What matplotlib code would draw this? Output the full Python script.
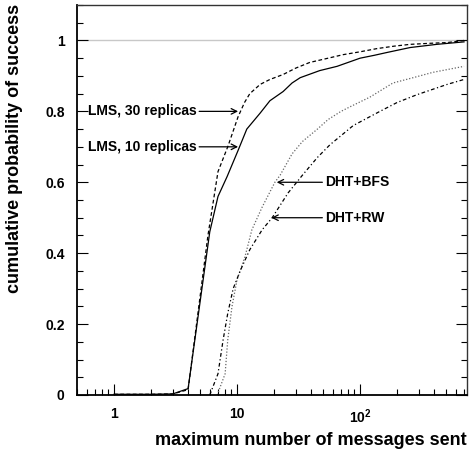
import matplotlib
matplotlib.use("Agg")
import matplotlib.pyplot as plt
from matplotlib.ticker import FixedLocator, NullFormatter, FixedFormatter

plt.rcParams['font.family'] = ['Liberation Sans', 'DejaVu Sans']
plt.rcParams['font.weight'] = 'bold'
plt.rcParams['mathtext.fontset'] = 'custom'
plt.rcParams['mathtext.bf'] = 'Liberation Sans:bold'
plt.rcParams['mathtext.rm'] = 'Liberation Sans:bold'

# data
lms30_x = [1, 2, 3, 4, 5.8, 7.0, 8.4, 10.2, 11.5, 12.7, 15.4, 18.5, 23.7, 30, 39, 55, 73, 100, 137, 190, 255, 370, 510, 700]
lms30_y = [0.002, 0.002, 0.003, 0.015, 0.45, 0.63, 0.70, 0.785, 0.825, 0.85, 0.876, 0.89, 0.904, 0.922, 0.938, 0.95, 0.96, 0.968, 0.977, 0.984, 0.989, 0.992, 0.994, 1.0]

lms10_x = [1, 2, 3, 4, 6.0, 7.0, 8.3, 10.2, 12.0, 15.4, 18.5, 23.7, 28, 32.6, 47, 65, 100, 130, 165, 255, 420, 700]
lms10_y = [0.002, 0.002, 0.003, 0.018, 0.46, 0.56, 0.616, 0.69, 0.75, 0.795, 0.83, 0.856, 0.88, 0.895, 0.915, 0.927, 0.95, 0.958, 0.966, 0.98, 0.989, 0.996]

bfs_x = [6.9, 8.0, 8.4, 9.1, 10, 11.6, 13.2, 16, 20.3, 22.4, 28, 34, 45, 55, 70, 83, 120, 185, 270, 390, 700]
bfs_y = [0.0, 0.06, 0.155, 0.25, 0.325, 0.39, 0.466, 0.53, 0.60, 0.62, 0.68, 0.715, 0.75, 0.777, 0.80, 0.813, 0.84, 0.88, 0.895, 0.91, 0.927]

rw_x = [6.0, 7.0, 7.7, 8.4, 9.3, 10.6, 12.7, 16.0, 19.3, 26, 34, 45, 57, 72, 88, 145, 200, 290, 510, 700]
rw_y = [0.0, 0.06, 0.155, 0.23, 0.30, 0.35, 0.41, 0.466, 0.50, 0.57, 0.62, 0.67, 0.706, 0.735, 0.76, 0.80, 0.825, 0.847, 0.876, 0.89]

x_major = [1, 10, 100]
x_labels = ['1', '10', r'$\mathbf{10^2}$']
y_major = [0, 0.2, 0.4, 0.6, 0.8, 1.0]
y_labels = ['0', '0.2', '0.4', '0.6', '0.8', '1']

annotations = [
    ("LMS, 30 replicas", 10.2, 0.80, 0.61),
    ("LMS, 10 replicas", 10.2, 0.70, 0.61),
    ("DHT+BFS", 21.0, 0.60, 52),
    ("DHT+RW", 19.0, 0.50, 52),
]

fig = plt.figure(figsize=(4.73, 4.53), dpi=100)
ax = fig.add_axes([77/473, 58/453, 390/473, 390/453])

ax.axhline(1.0, color='#c8c8c8', lw=1.0, zorder=1)
ax.plot(lms30_x, lms30_y, color='black', lw=0.9, ls=(0, (3, 2)))
ax.plot(lms10_x, lms10_y, color='black', lw=0.9, ls='-')
ax.plot(bfs_x, bfs_y, color='#666666', lw=0.9, ls=(0, (1, 1.5)))
ax.plot(rw_x, rw_y, color='black', lw=0.9, ls=(0, (3, 2, 1, 2)))

ax.set_xscale('log')
ax.set_xlim(0.5, 740)
ax.set_ylim(0, 1.10)

ax.xaxis.set_major_locator(FixedLocator(x_major))
ax.xaxis.set_major_formatter(FixedFormatter(x_labels))
minors = [m * d for d in [0.1, 1, 10, 100] for m in range(2, 10)]
ax.xaxis.set_minor_locator(FixedLocator([v for v in minors if 0.5 <= v <= 740]))
ax.xaxis.set_minor_formatter(NullFormatter())

ax.yaxis.set_major_locator(FixedLocator(y_major))
ax.yaxis.set_major_formatter(FixedFormatter(y_labels))
ax.yaxis.set_minor_locator(FixedLocator([i * 0.05 for i in range(0, 23)]))

ax.tick_params(axis='both', which='both', direction='in', labelsize=10)
ax.tick_params(axis='x', which='major', length=8, width=0.8, pad=9, top=False)
ax.tick_params(axis='x', which='minor', length=4, width=0.8, top=False)
ax.tick_params(axis='y', which='major', length=8, width=0.8, right=True, pad=9)
ax.tick_params(axis='y', which='minor', length=4, width=0.8, right=True)

for s in ['bottom', 'left']:
    ax.spines[s].set_linewidth(1.3)
for s in ['top', 'right']:
    ax.spines[s].set_linewidth(1.0)
    ax.spines[s].set_color('#333333')

for text, tx, ty, lx in annotations:
    ax.annotate(text, xy=(tx, ty), xytext=(lx, ty), fontsize=10, fontweight='bold',
                va='center', ha='left',
                arrowprops=dict(arrowstyle='->', color='black', lw=0.9,
                                shrinkA=0, shrinkB=0))

ax.set_xlabel('maximum number of messages sent', fontsize=13, fontweight='bold',
              loc='right')
ax.xaxis.set_label_coords(1.0, -0.095)
fig.text(15/473, 1 - 4/453, 'cumulative probability of success', fontsize=13,
         fontweight='bold', rotation=90, ha='center', va='top')

fig.savefig('out.png', dpi=100)
